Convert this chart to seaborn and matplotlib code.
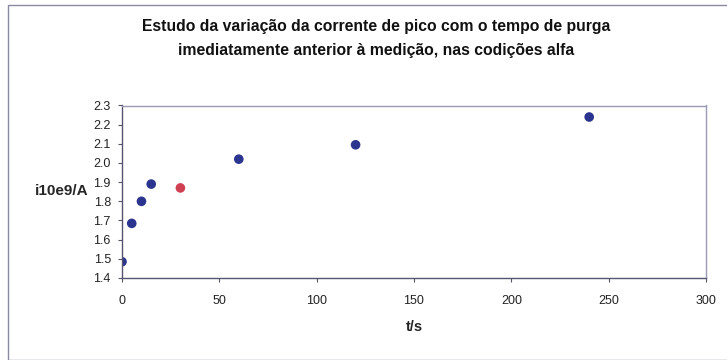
import matplotlib
matplotlib.use("Agg")
import matplotlib.pyplot as plt
from matplotlib.patches import Rectangle
import seaborn as sns
import pandas as pd

# purge time (s) and peak current (x1e9 A)
t_s = [0, 5, 10, 15, 30, 60, 120, 240]
i_peak = [1.485, 1.685, 1.80, 1.89, 1.87, 2.02, 2.095, 2.24]
grupo = ["a", "a", "a", "a", "b", "a", "a", "a"]

x_ticks = [0, 50, 100, 150, 200, 250, 300]
y_ticks = [1.4, 1.5, 1.6, 1.7, 1.8, 1.9, 2.0, 2.1, 2.2, 2.3]

df = pd.DataFrame({"t": t_s, "i": i_peak, "g": grupo})

sns.set_theme(style="white")
plt.rcParams["font.family"] = ["Liberation Sans", "DejaVu Sans"]

fig = plt.figure(figsize=(7.27, 3.60), dpi=100)
W, H = 727, 360

# outer chart frame
fig.patches.append(Rectangle((8 / W, 0), 1.2, 1 - 5 / H, transform=fig.transFigure,
                             fill=False, edgecolor="#8a8aa0", linewidth=1.0))

ax = fig.add_axes([122 / W, 1 - 278 / H, (706 - 122) / W, (278 - 105.5) / H])
sns.scatterplot(data=df, x="t", y="i", hue="g",
                palette={"a": "#2b358f", "b": "#cf4152"},
                s=48, edgecolor="none", legend=False, ax=ax)

ax.set_xlim(0, 300)
ax.set_ylim(1.4, 2.3)
ax.set_xticks(x_ticks)
ax.set_yticks(y_ticks)
ax.set_xticklabels([str(v) for v in x_ticks])
ax.set_yticklabels([f"{v:.1f}" for v in y_ticks])
ax.tick_params(axis="both", labelsize=9, colors="#222222", length=3,
               width=0.8, direction="out")
ax.tick_params(axis="x", pad=9)
ax.tick_params(axis="y", pad=5)
ax.tick_params(axis="both", color="#555566")
ax.xaxis.set_ticks_position("bottom")
ax.yaxis.set_ticks_position("left")
for side, sp in ax.spines.items():
    sp.set_visible(True)
    sp.set_linewidth(1.0)
    sp.set_color("#555570" if side in ("left", "bottom") else "#9a9ab0")

ax.set_xlabel("t/s", fontsize=10.5, fontweight="bold")
ax.xaxis.set_label_coords(0.5, -(327 - 278) / (278 - 105.5), transform=ax.transAxes)
ax.xaxis.label.set_va("center")
ax.set_ylabel("i10e9/A", fontsize=11, fontweight="bold", rotation=0,
              ha="right", va="center")
ax.yaxis.set_label_coords(-(122 - 88) / (706 - 122), (278 - 191) / (278 - 105.5))

fig.text(376 / W, 1 - 27 / H,
         "Estudo da variação da corrente de pico com o tempo de purga",
         ha="center", va="center", fontsize=11.3, fontweight="bold", color="#111111")
fig.text(376 / W, 1 - 50 / H,
         "imediatamente anterior à medição, nas codições alfa",
         ha="center", va="center", fontsize=11.3, fontweight="bold", color="#111111")

fig.savefig("out.png", dpi=100)
